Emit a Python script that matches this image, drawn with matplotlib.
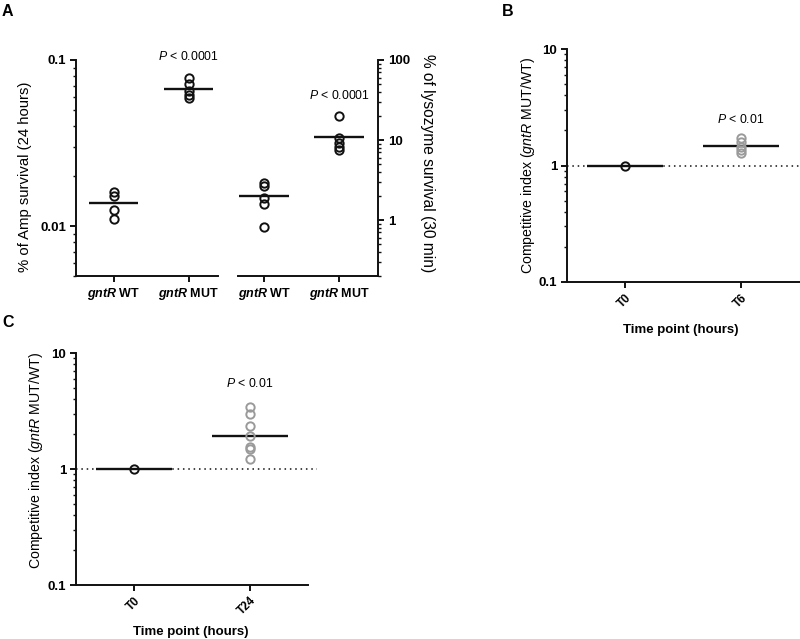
import matplotlib
matplotlib.use("Agg")
import matplotlib.pyplot as plt
from matplotlib.ticker import FixedLocator, LogLocator, NullFormatter
import numpy as np

plt.rcParams['font.family'] = ['Liberation Sans', 'DejaVu Sans']
plt.rcParams['mathtext.fontset'] = 'custom'
plt.rcParams['mathtext.rm'] = 'Liberation Sans'
plt.rcParams['mathtext.it'] = 'Liberation Sans:italic'
plt.rcParams['mathtext.bf'] = 'Liberation Sans:bold'
plt.rcParams['mathtext.bfit'] = 'Liberation Sans:italic:bold'

# ---------------- data ----------------
groups_a = [r"$\mathbfit{gntR}$ WT", r"$\mathbfit{gntR}$ MUT"]
amp_wt = [0.016, 0.0152, 0.0125, 0.011]
amp_mut = [0.078, 0.0716, 0.065, 0.0615, 0.059]
amp_means = [0.0138, 0.067]
lyso_wt = [2.88, 2.7, 1.91, 1.58, 0.81]
lyso_mut = [19.7, 10.5, 9.25, 8.15, 7.4]
lyso_means = [2.01, 10.8]

times_b = ["T0", "T6"]
ci_b_t0 = [1.0]
ci_b_t6 = [1.71, 1.60, 1.45, 1.36, 1.29]
ci_b_means = [1.0, 1.48]

times_c = ["T0", "T24"]
ci_c_t0 = [1.0]
ci_c_t24 = [3.44, 2.96, 2.35, 1.91, 1.54, 1.50, 1.21]
ci_c_means = [1.0, 1.92]

W, H = 800, 639
fig = plt.figure(figsize=(W / 100, H / 100), dpi=100)

def rect(x0, y0, x1, y1):
    return [x0 / W, 1 - y1 / H, (x1 - x0) / W, (y1 - y0) / H]

BLACK = '#111111'
GRAY = '#9a9a9a'
LW = 1.4
MS = 6.0
HALF = 0.33
TICKFS = 9.5

def style(ax, side='left'):
    for s in ['top', 'right', 'left', 'bottom']:
        ax.spines[s].set_visible(False)
    ax.spines['bottom'].set_visible(True)
    ax.spines[side].set_visible(True)
    for s in ['bottom', side]:
        ax.spines[s].set_linewidth(LW)
        ax.spines[s].set_color(BLACK)
    ax.tick_params(axis='both', which='major', direction='out', width=LW, length=4.5, color=BLACK, pad=2.5)
    ax.tick_params(axis='y', which='minor', direction='out', width=1.0, length=2.5, color=BLACK)
    ax.tick_params(axis='x', which='minor', bottom=False)
    if side == 'right':
        ax.yaxis.tick_right()
        ax.yaxis.set_label_position('right')
    ax.patch.set_alpha(0)

def points(ax, x, vals, color):
    ax.plot([x] * len(vals), vals, linestyle='none', marker='o', markersize=MS,
            markerfacecolor='none', markeredgecolor=color, markeredgewidth=1.4, zorder=4, clip_on=False)

def mean_lines(ax, means):
    for i, m in enumerate(means):
        ax.plot([i - HALF, i + HALF], [m, m], color=BLACK, lw=1.7, zorder=3, solid_capstyle='butt')

def log_ticks(ax, majors, labels, lo, hi):
    ax.set_yscale('log')
    ax.set_ylim(lo, hi)
    ax.yaxis.set_major_locator(FixedLocator(majors))
    ax.set_yticklabels(labels, fontsize=TICKFS, fontweight='bold')
    ax.yaxis.set_minor_locator(LogLocator(base=10, subs=np.arange(2, 10)))
    ax.yaxis.set_minor_formatter(NullFormatter())

# ---------------- Panel A left ----------------
axA1 = fig.add_axes(rect(76, 60, 218, 276))
style(axA1, 'left')
log_ticks(axA1, [0.01, 0.1], ['0.01', '0.1'], 0.005, 0.1)
axA1.set_xlim(-0.5, 1.39)
points(axA1, 0, amp_wt, BLACK)
points(axA1, 1, amp_mut, BLACK)
mean_lines(axA1, amp_means)
axA1.set_xticks([0, 1])
axA1.set_xticklabels(groups_a, fontsize=9, fontweight='bold')
axA1.text(1, 0.1045, r"$\mathit{P}$ < 0.0001", ha='center', va='center', fontsize=8.8)

# ---------------- Panel A right ----------------
axA2 = fig.add_axes(rect(238, 60, 378, 276))
style(axA2, 'right')
log_ticks(axA2, [1, 10, 100], ['1', '10', '100'], 0.2, 100)
axA2.set_xlim(-0.35, 1.52)
points(axA2, 0, lyso_wt, BLACK)
points(axA2, 1, lyso_mut, BLACK)
mean_lines(axA2, lyso_means)
axA2.set_xticks([0, 1])
axA2.set_xticklabels(groups_a, fontsize=9, fontweight='bold')
axA2.text(1, 36.4, r"$\mathit{P}$ < 0.0001", ha='center', va='center', fontsize=8.8)

fig.text(25 / W, 1 - 177 / H, "% of Amp survival (24 hours)", rotation=90,
         ha='center', va='center', fontsize=10.7)
fig.text(428 / W, 1 - 163 / H, "% of lysozyme survival (30 min)", rotation=270,
         ha='center', va='center', fontsize=11.2)

# ---------------- Panel B ----------------
axB = fig.add_axes(rect(567, 49, 800, 282))
style(axB, 'left')
log_ticks(axB, [0.1, 1, 10], ['0.1', '1', '10'], 0.1, 10)
axB.set_xlim(-0.5, 1.51)
axB.axhline(1, color=BLACK, lw=1.1, linestyle=(0, (1, 2.5)), zorder=2)
mean_lines(axB, ci_b_means)
points(axB, 0, ci_b_t0, BLACK)
points(axB, 1, ci_b_t6, GRAY)
axB.set_xticks([0, 1])
axB.set_xticklabels(times_b, fontsize=8.5, fontweight='bold', rotation=45,
                    ha='right', va='top', rotation_mode='anchor')
axB.text(1, 2.5, r"$\mathit{P}$ < 0.01", ha='center', va='center', fontsize=8.8)
fig.text(528 / W, 1 - 165 / H, r"Competitive index ($\mathit{gntR}$ MUT/WT)", rotation=90,
         ha='center', va='center', fontsize=10.2)
fig.text(681 / W, 1 - 330 / H, "Time point (hours)", ha='center', va='center',
         fontsize=9.5, fontweight='bold')

# ---------------- Panel C ----------------
axC = fig.add_axes(rect(76, 353, 308, 585))
style(axC, 'left')
log_ticks(axC, [0.1, 1, 10], ['0.1', '1', '10'], 0.1, 10)
axC.set_xlim(-0.5, 1.5)
axC.plot([-0.5, 1.58], [1, 1], color=BLACK, lw=1.1, linestyle=(0, (1, 2.5)), zorder=2, clip_on=False)
mean_lines(axC, ci_c_means)
points(axC, 0, ci_c_t0, BLACK)
points(axC, 1, ci_c_t24, GRAY)
axC.set_xticks([0, 1])
axC.set_xticklabels(times_c, fontsize=8.5, fontweight='bold', rotation=45,
                    ha='right', va='top', rotation_mode='anchor')
axC.text(1, 5.5, r"$\mathit{P}$ < 0.01", ha='center', va='center', fontsize=8.8)
fig.text(36 / W, 1 - 460 / H, r"Competitive index ($\mathit{gntR}$ MUT/WT)", rotation=90,
         ha='center', va='center', fontsize=10.2)
fig.text(191 / W, 1 - 632 / H, "Time point (hours)", ha='center', va='center',
         fontsize=9.5, fontweight='bold')

# ---------------- panel letters ----------------
fig.text(2 / W, 1 - 4 / H, "A", ha='left', va='top', fontsize=11.5, fontweight='bold')
fig.text(502 / W, 1 - 4 / H, "B", ha='left', va='top', fontsize=11.5, fontweight='bold')
fig.text(2 / W, 1 - 315 / H, "C", ha='left', va='top', fontsize=11.5, fontweight='bold')

fig.savefig("out.png", dpi=100)
